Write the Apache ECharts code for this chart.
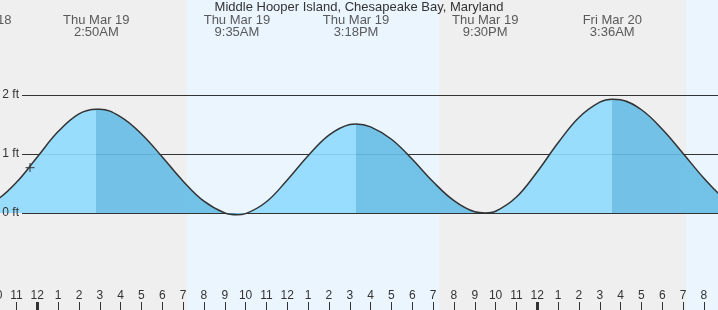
<!DOCTYPE html>
<html><head><meta charset="utf-8">
<script src="https://cdn.jsdelivr.net/npm/echarts@6/dist/echarts.min.js"></script>
<style>html,body{margin:0;padding:0;background:#efefef}#c{width:718px;height:310px}</style>
</head><body><div id="c"></div>
<script>
const titleText = 'Middle Hooper Island, Chesapeake Bay, Maryland';
// hours relative to Thu Mar 19 00:00
const tideHours = [-3, -2.93, -2, -1, 0, 1, 2, 2.833, 3, 4, 5, 6, 7, 8, 9, 9.583, 10, 11, 12, 13, 14, 15, 15.3, 16, 17, 18, 19, 20, 21, 21.5, 22, 23, 24, 25, 26, 27, 27.6, 28, 29, 30, 31, 32, 33, 34];
const tideFeet = [0.10, 0.10, 0.21, 0.52, 0.95, 1.38, 1.68, 1.76, 1.76, 1.63, 1.34, 0.95, 0.54, 0.20, 0.00, -0.03, -0.01, 0.19, 0.56, 0.97, 1.32, 1.50, 1.51, 1.46, 1.25, 0.91, 0.53, 0.21, 0.02, 0.00, 0.03, 0.27, 0.70, 1.19, 1.62, 1.88, 1.93, 1.92, 1.75, 1.42, 1.01, 0.59, 0.24, 0.04];
const extremaHours = [-2.93, 2.833, 9.583, 15.3, 21.5, 27.6];
const extremaKind = ['low', 'high', 'low', 'high', 'low', 'high'];
const extremaDays = ['Wed Mar 18', 'Thu Mar 19', 'Thu Mar 19', 'Thu Mar 19', 'Thu Mar 19', 'Fri Mar 20'];
const extremaTimes = ['9:04PM', '2:50AM', '9:35AM', '3:18PM', '9:30PM', '3:36AM'];
const daylightBands = [[7.17, 19.28], [31.14, 34]];
const midnightHours = [0, 24];
const feetTicks = [0, 1, 2];
const nowHour = -0.35;
const nowFeet = 0.77;

const hourMin = -3, hourMax = 34, feetMin = -2, feetMax = 4;
const FONT = '"Liberation Sans", Arial, sans-serif';
const LIGHT = '#8fdafd', DARK = '#65bce5', TXT = '#333';

const bounds = [hourMin].concat(extremaHours.filter(h => h > hourMin), [hourMax]);
const pieces = [];
for (let i = 0; i < bounds.length - 1; i++) {
  const idx = extremaHours.indexOf(bounds[i + 1]);
  const rising = idx >= 0 ? extremaKind[idx] === 'high' : extremaKind[extremaKind.length - 1] === 'low';
  const p = {gte: bounds[i], color: rising ? LIGHT : DARK};
  if (i === bounds.length - 2) p.lte = bounds[i + 1]; else p.lt = bounds[i + 1];
  pieces.push(p);
}
const tideData = tideHours.map((h, i) => [h, tideFeet[i]]);
const G = {outerBoundsMode: 'none', containLabel: false};

const chart = echarts.init(document.getElementById('c'));
chart.setOption({
  animation: false,
  backgroundColor: '#efefef',
  textStyle: {fontFamily: FONT},
  title: {text: titleText, left: 'center', top: 1, padding: 0,
    textStyle: {fontSize: 13, fontWeight: 'normal', color: TXT, fontFamily: FONT}},
  grid: [
    Object.assign({left: -25.2, right: -27.6, top: -23, bottom: -21}, G),
    Object.assign({left: 22, right: 0, top: -23, bottom: -21}, G),
    Object.assign({left: -25.2, right: -27.6, top: 0, bottom: 0}, G)
  ],
  visualMap: {type: 'piecewise', show: false, dimension: 0, seriesIndex: 2, pieces: pieces},
  xAxis: [
    {gridIndex: 0, type: 'value', min: hourMin, max: hourMax, show: false},
    {gridIndex: 1, type: 'value', min: 0, max: 1, show: false},
    {gridIndex: 2, type: 'value', position: 'bottom', min: hourMin, max: hourMax, interval: 1, z: 10,
      axisLine: {show: false}, splitLine: {show: false},
      axisTick: {inside: true, length: 8, lineStyle: {color: TXT, width: 1}},
      axisLabel: {inside: true, margin: 8, fontSize: 12, color: TXT, fontFamily: FONT,
        formatter: v => { const hh = ((Math.round(v) % 24) + 24) % 24; return String(hh % 12 === 0 ? 12 : hh % 12); }}},
    {gridIndex: 2, type: 'value', position: 'bottom', min: hourMin, max: hourMax, z: 11,
      axisLine: {show: false}, splitLine: {show: false}, axisLabel: {show: false},
      axisTick: {inside: true, length: 8, customValues: midnightHours, lineStyle: {color: TXT, width: 3}}}
  ],
  yAxis: [
    {gridIndex: 0, type: 'value', min: feetMin, max: feetMax, show: false},
    {gridIndex: 1, type: 'value', min: feetMin, max: feetMax, interval: 1, z: 10,
      axisLine: {show: false}, axisTick: {show: false}, splitLine: {show: false},
      axisLabel: {margin: 3, fontSize: 12, color: TXT, fontFamily: FONT,
        formatter: v => feetTicks.indexOf(v) >= 0 ? v + ' ft' : ''}},
    {gridIndex: 2, type: 'value', min: 0, max: 1, show: false}
  ],
  series: [
    {type: 'line', xAxisIndex: 0, yAxisIndex: 0, data: [], z: 0, silent: true,
      markArea: {silent: true, z: 0, itemStyle: {color: '#ebf5fe'},
        data: daylightBands.map(b => [{xAxis: b[0]}, {xAxis: b[1]}])}},
    {type: 'line', xAxisIndex: 1, yAxisIndex: 1, data: [], z: 1, silent: true,
      markLine: {silent: true, z: 1, symbol: ['none', 'none'], label: {show: false},
        lineStyle: {color: TXT, width: 1, type: 'solid'},
        data: feetTicks.map(v => ({yAxis: v}))}},
    {type: 'line', xAxisIndex: 0, yAxisIndex: 0, data: tideData, smooth: 0.4, symbol: 'none', z: 2,
      lineStyle: {width: 0}, areaStyle: {opacity: 0.9}, silent: true},
    {type: 'line', xAxisIndex: 0, yAxisIndex: 0, data: tideData, smooth: 0.4, symbol: 'none', z: 3,
      lineStyle: {color: TXT, width: 1.5}, silent: true},
    {type: 'scatter', xAxisIndex: 0, yAxisIndex: 0, z: 4, silent: true,
      symbol: 'path://M4.3,0H5.7V4.3H10V5.7H5.7V10H4.3V5.7H0V4.3H4.3Z', symbolSize: 9,
      itemStyle: {color: TXT}, data: [[nowHour, nowFeet]]},
    {type: 'scatter', xAxisIndex: 0, yAxisIndex: 0, z: 5, silent: true, symbolSize: 0,
      data: extremaHours.map((h, i) => ({value: [h, 3.163], name: extremaDays[i] + '\n' + extremaTimes[i]})),
      label: {show: true, position: 'inside', formatter: p => p.name, fontSize: 13, lineHeight: 12,
        color: TXT, fontFamily: FONT}}
  ]
});
</script></body></html>
